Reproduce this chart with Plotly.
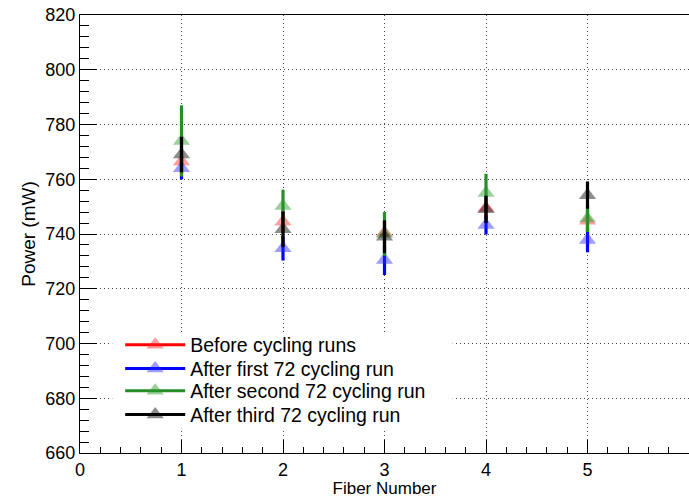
import plotly.graph_objects as go

fibers = [1, 2, 3, 4, 5]

series_names = [
    "Before cycling runs",
    "After first 72 cycling run",
    "After second 72 cycling run",
    "After third 72 cycling run",
]
before_vals = [766.5, 744.5, 740.5, 749.5, 744.8]
before_err = [4, 4, 4, 4, 4]
first_vals = [764.0, 734.8, 730.5, 743.3, 737.8]
first_err = [4, 4.5, 5.5, 3.5, 4.5]
second_vals = [774.0, 750.2, 740.0, 755.0, 745.7]
second_err = [13, 6, 8, 7, 5]
third_vals = [769.0, 741.7, 739.0, 749.0, 754.2]
third_err = [6.5, 6.5, 6, 5, 5]

line_colors = ["rgb(255,0,0)", "rgb(0,0,255)", "rgb(40,140,40)", "rgb(0,0,0)"]
marker_colors = ["rgba(255,40,40,0.45)", "rgba(40,40,255,0.45)",
                 "rgba(40,150,40,0.45)", "rgba(0,0,0,0.45)"]

values = [before_vals, first_vals, second_vals, third_vals]
errors = [before_err, first_err, second_err, third_err]

FONT = "Liberation Sans, Arial, Helvetica, sans-serif"

fig = go.Figure()
for name, v, e, lc, mc in zip(series_names, values, errors, line_colors, marker_colors):
    fig.add_trace(go.Scatter(
        x=fibers, y=v, mode="markers", showlegend=False,
        marker=dict(symbol="triangle-up", size=15, color=mc, line=dict(width=0)),
        error_y=dict(type="data", array=e, visible=True, thickness=3.2, width=0, color=lc),
    ))

legend_ids = ["legend", "legend2", "legend3", "legend4"]
for name, lc, mc, lid in zip(series_names, line_colors, marker_colors, legend_ids):
    fig.add_trace(go.Scatter(
        x=[None], y=[None], mode="lines+markers", name=name, legend=lid,
        line=dict(color=lc, width=3),
        marker=dict(symbol="triangle-up", size=15, color=mc, line=dict(width=0)),
    ))

# legend background panel (white, hiding the grid like the original)
fig.add_shape(type="rect", xref="paper", yref="paper",
              x0=0.053, x1=0.612, y0=0.052, y1=0.274,
              fillcolor="white", line=dict(width=0), layer="above")

legend_y = [0.2465, 0.192, 0.1415, 0.087]
leg_common = dict(x=0.066, xanchor="left", yanchor="middle",
                  bgcolor="rgba(255,255,255,0)", borderwidth=0,
                  font=dict(family=FONT, size=19.5, color="black"),
                  itemwidth=60)
legends = {}
for lid, ly in zip(legend_ids, legend_y):
    legends[lid] = dict(y=ly, **leg_common)

grid_dash = "1px,3px"

fig.update_layout(
    width=689, height=498,
    margin=dict(l=80, r=0, t=15, b=45),
    paper_bgcolor="white", plot_bgcolor="white",
    font=dict(family=FONT, size=18, color="black"),
    xaxis=dict(
        range=[0, 6], dtick=1, tick0=0,
        showline=True, linecolor="black", linewidth=1, mirror=True,
        ticks="inside", ticklen=13, tickcolor="black",
        minor=dict(ticks="inside", ticklen=6, dtick=0.2, tick0=0, tickcolor="black", showgrid=False),
        showgrid=True, gridcolor="rgb(70,70,70)", griddash=grid_dash, gridwidth=1,
        zeroline=False,
        tickfont=dict(size=18),
        title=dict(text="Fiber Number", font=dict(size=17), standoff=6),
        automargin=False,
    ),
    yaxis=dict(
        range=[660, 820], dtick=20, tick0=660,
        showline=True, linecolor="black", linewidth=1, mirror=False,
        ticks="inside", ticklen=17, tickcolor="black",
        minor=dict(ticks="inside", ticklen=9, dtick=4, tick0=660, tickcolor="black", showgrid=False),
        showgrid=True, gridcolor="rgb(70,70,70)", griddash=grid_dash, gridwidth=1,
        zeroline=False,
        tickfont=dict(size=18),
        title=dict(text="Power (mW)", font=dict(size=19), standoff=4),
        automargin=False,
    ),
    **legends,
)

fig.write_html("out.html")
